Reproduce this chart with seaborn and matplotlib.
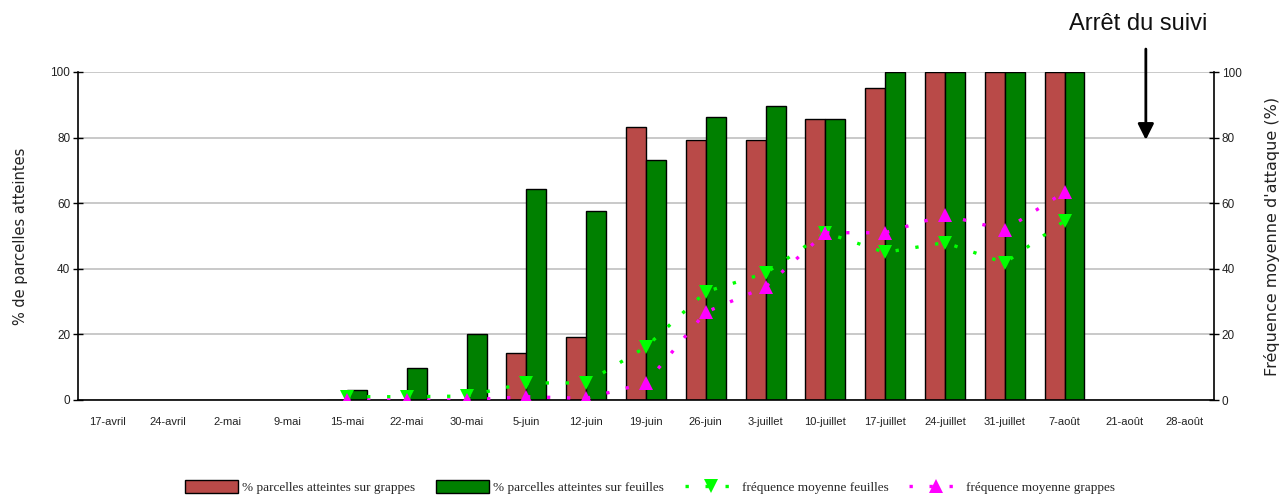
import numpy as np
import pandas as pd
import matplotlib
matplotlib.use("Agg")
import matplotlib.pyplot as plt
from matplotlib.patches import Patch
from matplotlib.lines import Line2D
import seaborn as sns

# Survey dates
dates = ["17-avril", "24-avril", "2-mai", "9-mai", "15-mai", "22-mai", "30-mai",
         "5-juin", "12-juin", "19-juin", "26-juin", "3-juillet", "10-juillet",
         "17-juillet", "24-juillet", "31-juillet", "7-août", "21-août", "28-août"]

# % of plots affected (bars)
pct_grappes = [np.nan, np.nan, np.nan, np.nan, 0, 0, 0, 14.3, 19.2, 83.3, 79.3,
               79.3, 85.7, 95.0, 100, 100, 100, np.nan, np.nan]
pct_feuilles = [np.nan, np.nan, np.nan, np.nan, 2.9, 9.7, 20.0, 64.3, 57.7, 73.3,
                86.2, 89.7, 85.7, 100, 100, 100, 100, np.nan, np.nan]

# Mean attack frequency (%)
freq_feuilles = [np.nan, np.nan, np.nan, np.nan, 1.0, 1.0, 1.2, 5.2, 5.2, 16.2,
                 33.0, 38.7, 51.0, 45.0, 48.0, 41.8, 54.6, np.nan, np.nan]
freq_grappes = [np.nan, np.nan, np.nan, np.nan, 0, 0, 0, 1.0, 0.5, 5.2,
                26.8, 34.5, 51.0, 51.0, 56.4, 51.8, 63.4, np.nan, np.nan]

serie_grappes = "% parcelles atteintes sur grappes"
serie_feuilles = "% parcelles atteintes sur feuilles"
label_freq_f = "fréquence moyenne feuilles"
label_freq_g = "fréquence moyenne grappes"

RED = "#B94A48"
GREEN = "#008000"
LGREEN = "#00FF00"
MAGENTA = "#FF00FF"

sns.set_theme(style="white")
plt.rcParams["font.family"] = ["Liberation Sans", "DejaVu Sans"]

df = pd.DataFrame({
    "date": dates * 2,
    "serie": [serie_grappes] * len(dates) + [serie_feuilles] * len(dates),
    "valeur": pct_grappes + pct_feuilles,
}).dropna()

fig = plt.figure(figsize=(12.85, 4.99), dpi=100)
ax = fig.add_axes([78 / 1285, 1 - 400 / 499, (1214 - 78) / 1285, (400 - 72) / 499])

sns.barplot(data=df, x="date", y="valeur", hue="serie", order=dates,
            hue_order=[serie_grappes, serie_feuilles],
            palette=[RED, GREEN], width=0.667, gap=0, dodge=True,
            edgecolor="black", linewidth=1.0, saturation=1, ax=ax, legend=False,
            zorder=2)

ax.set_xlim(-0.5, len(dates) - 0.5)
ax.set_ylim(0, 100)
ax.set_yticks(np.arange(0, 101, 20))
ax.yaxis.grid(True, color="#c0c0c0", linewidth=1.2, zorder=0)
ax.set_axisbelow(True)

# category boundaries as tick marks, labels in the middle
ax.set_xticks(np.arange(-0.5, len(dates)), labels=[""] * (len(dates) + 1))
ax.set_xticks(np.arange(len(dates)), labels=dates, minor=True)
ax.tick_params(axis="x", which="major", direction="out", length=8, width=1, color="black")
ax.tick_params(axis="x", which="minor", length=0, pad=12, labelsize=8,
               labelcolor="#222222")
ax.tick_params(axis="y", direction="inout", length=7, width=1, color="black",
               labelsize=8.5, pad=2, labelcolor="#222222")
ax.set_xlabel("")
ax.set_ylabel("% de parcelles atteintes", fontsize=10.5, labelpad=16, color="#222222",
              family="DejaVu Sans")

for side in ["top", "right"]:
    ax.spines[side].set_visible(False)
for side in ["left", "bottom"]:
    ax.spines[side].set_color("black")
    ax.spines[side].set_linewidth(1.2)

# Mean attack frequency on the secondary axis
ax2 = ax.twinx()
x_idx = np.arange(len(dates))
ax2.plot(x_idx, freq_feuilles, color=LGREEN, linestyle=(0, (1, 5)), linewidth=2.4,
         marker="v", markersize=9.5, markeredgewidth=0, zorder=4)
ax2.plot(x_idx, freq_grappes, color=MAGENTA, linestyle=(0, (1, 5)), linewidth=2.4,
         marker="^", markersize=9.5, markeredgewidth=0, zorder=4)
ax2.set_ylim(0, 100)
ax2.set_yticks(np.arange(0, 101, 20))
ax2.tick_params(axis="y", direction="inout", length=7, width=1, color="black",
                labelsize=8.5, pad=2, labelcolor="#222222")
ax2.grid(False)
for side in ["top", "left", "bottom"]:
    ax2.spines[side].set_visible(False)
ax2.spines["right"].set_color("black")
ax2.spines["right"].set_linewidth(1.2)
ax2.set_ylabel("Fréquence moyenne d'attaque (%)", fontsize=11.5, labelpad=16,
               color="#222222", family="DejaVu Sans")

# End of monitoring marker
ax.annotate("", xy=(17.36, 79.3), xytext=(17.36, 107),
            xycoords="data", textcoords="data", annotation_clip=False,
            arrowprops=dict(arrowstyle="-|>", color="black", lw=2,
                            mutation_scale=24, shrinkA=0, shrinkB=0))
ax.text(17.24, 114.5, "Arrêt du suivi", ha="center", va="center", fontsize=17,
        color="#111111", clip_on=False)

handles = [
    Patch(facecolor=RED, edgecolor="black", linewidth=1),
    Patch(facecolor=GREEN, edgecolor="black", linewidth=1),
    Line2D([0], [0], color=LGREEN, linestyle=(0, (1, 5)), linewidth=2.4,
           marker="v", markersize=9.5, markeredgewidth=0),
    Line2D([0], [0], color=MAGENTA, linestyle=(0, (1, 5)), linewidth=2.4,
           marker="^", markersize=9.5, markeredgewidth=0),
]
labels = [serie_grappes, serie_feuilles, label_freq_f, label_freq_g]
fig.legend(handles, labels, loc="center", bbox_to_anchor=(0.506, 0.024), ncol=4,
           frameon=False, handlelength=4.0, handleheight=1.1, handletextpad=0.3,
           columnspacing=1.6, prop={"family": "Liberation Serif", "size": 9.5})

fig.savefig("out.png", dpi=100)
